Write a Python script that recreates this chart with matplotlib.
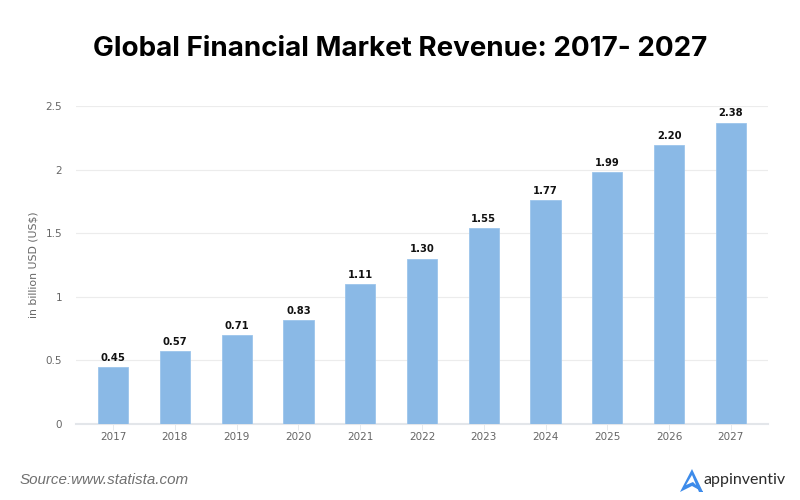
import matplotlib as mpl
mpl.use('Agg')
import matplotlib.pyplot as plt
from matplotlib.patches import Polygon

years = ['2017', '2018', '2019', '2020', '2021', '2022', '2023', '2024', '2025', '2026', '2027']
bar_values = [0.45, 0.57, 0.70, 0.82, 1.10, 1.30, 1.54, 1.76, 1.98, 2.19, 2.37]
bar_labels = ['0.45', '0.57', '0.71', '0.83', '1.11', '1.30', '1.55', '1.77', '1.99', '2.20', '2.38']
y_ticks = [0, 0.5, 1, 1.5, 2, 2.5]
y_tick_labels = ['0', '0.5', '1', '1.5', '2', '2.5']

W, H = 800, 500
fig = plt.figure(figsize=(8, 5), dpi=100)
ax = fig.add_axes([76 / W, 1 - 424 / H, 692 / W, 318 / H])

x = list(range(len(years)))
ax.bar(x, bar_values, width=0.49, color='#8ab9e6', edgecolor='#9cc5ec', linewidth=0.6, zorder=3)
for i, lab in enumerate(bar_labels):
    ax.annotate(lab, (x[i], bar_values[i]), xytext=(0, 3), textcoords='offset points',
                ha='center', va='bottom', fontsize=7.2, fontweight='bold', color='#111111', zorder=4)

ax.set_xlim(-0.6, 10.6)
ax.set_ylim(0, 2.5)
ax.set_xticks(x)
ax.set_xticklabels(years)
ax.set_yticks(y_ticks)
ax.set_yticklabels(y_tick_labels)
ax.yaxis.grid(True, color='#ececec', linewidth=0.8, zorder=0)
ax.set_axisbelow(True)
for s in ['top', 'right', 'left']:
    ax.spines[s].set_visible(False)
ax.spines['bottom'].set_color('#e3e6ea')
ax.spines['bottom'].set_linewidth(1.5)
ax.tick_params(axis='y', length=0, pad=10, labelsize=7.5, labelcolor='#666666')
ax.tick_params(axis='x', length=4, width=0.6, color='#e3e6ea', pad=2, labelsize=7.5, labelcolor='#666666')

fig.text(34 / W, 1 - 265 / H, 'in billion USD (US$)', rotation=90, ha='center', va='center',
         fontsize=7.8, color='#666666')
fig.text(400 / W, 1 - 49 / H, 'Global Financial Market Revenue: 2017- 2027', ha='center', va='center',
         fontsize=20, fontweight='bold', color='black', family='Inter')
fig.text(20 / W, 1 - 480 / H, 'Source:www.statista.com', ha='left', va='center',
         fontsize=10.9, style='italic', color='#707070', family='Liberation Sans')

# logo
fig.add_artist(Polygon([(692 / W, 1 - 469 / H), (680 / W, 1 - 492 / H), (692 / W, 1 - 486 / H),
                        (703 / W, 1 - 492 / H), (693 / W, 1 - 482 / H), (686 / W, 1 - 485 / H),
                        (692 / W, 1 - 475 / H), (699 / W, 1 - 492 / H), (703 / W, 1 - 492 / H)],
                       closed=True, facecolor='#3d8bea', edgecolor='none', transform=fig.transFigure))
fig.text(704 / W, 1 - 480 / H, 'appinventiv', ha='left', va='center', fontsize=11.5, color='#2b2b2b',
         family='Lato')

fig.savefig('out.png', dpi=100)
